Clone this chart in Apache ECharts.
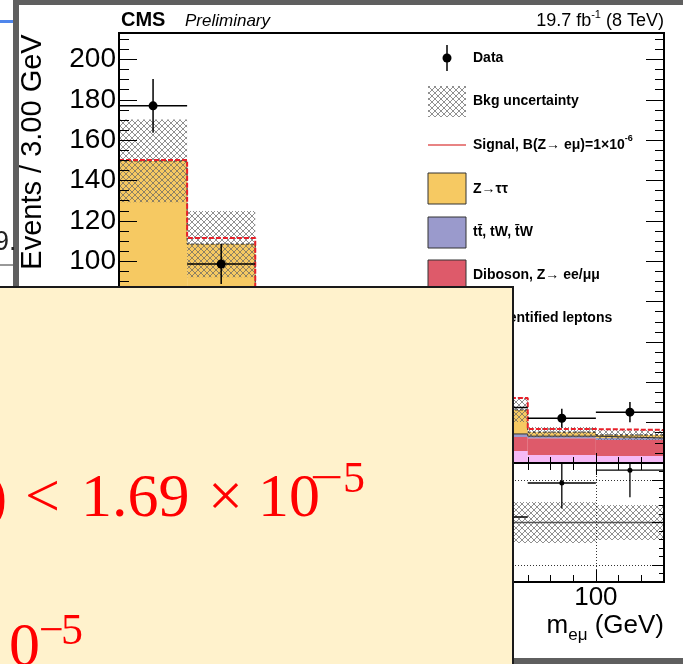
<!DOCTYPE html>
<html><head><meta charset="utf-8">
<script src="https://cdn.jsdelivr.net/npm/echarts@6/dist/echarts.min.js"></script>
<style>html,body{margin:0;padding:0;background:#fff;overflow:hidden}#c{width:683px;height:664px}</style>
</head><body><div id="c"></div>
<script>
// ---------------- data ----------------
const binEdges   = [79, 82, 85, 88, 91, 94, 97, 100, 103];
const misidLeptons = [10, 9.5, 8, 7, 6.5, 6, 4, 3.5];
const dibosonZll   = [15, 14, 12, 10, 8, 6.9, 8.3, 7.9];
const ttbarTW      = [3, 2.5, 2, 1.8, 1.6, 1.5, 1.0, 1.0];
const zTauTau      = [121.7, 82.5, 48, 26, 16, 11.9, 2.0, 1.5];
const signalZemu   = [0.5, 3, 8, 14, 12, 5.9, 1.5, 2.5];
const bkgUncert    = [20.5, 16.4, 12, 9, 7, 6, 2.5, 2.5];
const dataCounts   = [177, 98.6, 74, 47, 31, 27.5, 22.2, 25.2];
const dataErrors   = [13.3, 9.9, 8.6, 6.9, 5.6, 5.2, 4.7, 5.0];
const ratioValues  = [1.18, 0.91, 1.06, 1.05, 0.97, 1.065, 1.465, 1.616];
const ratioErrors  = [0.09, 0.09, 0.12, 0.15, 0.17, 0.2, 0.3, 0.32];
const ratioBand    = [0.14, 0.15, 0.17, 0.2, 0.22, 0.24, 0.24, 0.205];
const yMainTicks   = [0, 20, 40, 60, 80, 100, 120, 140, 160, 180, 200];
const xMajorTicks  = [80, 85, 90, 95, 100];
const xTickLabels  = [80, 85, 90, 95, 100];
const ratioMajorTicks = [0.5, 1, 1.5];
const ratioGridLines  = [0.5, 1.5];
const legendLabels = ['Data', 'Bkg uncertainty', 'Signal, B(Z\u2192 e\u03bc)=1\u00d710', 'Z\u2192\u03c4\u03c4',
  'tt\u0304, tW, t\u0304W', 'Diboson, Z\u2192 ee/\u03bc\u03bc', 'Misidentified leptons'];

// ---------------- styles ----------------
const C_Z = '#f6c962', C_TT = '#9a9acc', C_VV = '#de5a6a', C_MIS = '#f5b9f5', C_SIG = '#e8202a';
const SANS = '"Liberation Sans", Arial, sans-serif';
const SERIF = '"Liberation Serif", "Times New Roman", serif';

const hatchCanvas = document.createElement('canvas');
hatchCanvas.width = 6; hatchCanvas.height = 6;
(function () {
  const g = hatchCanvas.getContext('2d');
  g.strokeStyle = 'rgba(100,100,100,0.9)'; g.lineWidth = 0.8;
  g.beginPath();
  g.moveTo(-1, -1); g.lineTo(7, 7);
  g.moveTo(7, -1); g.lineTo(-1, 7);
  g.stroke();
})();
const HATCH = { image: hatchCanvas, repeat: 'repeat' };

const mctx = document.createElement('canvas').getContext('2d');
function tw(s, font) { mctx.font = font; return mctx.measureText(s).width; }

// ---------------- derived stacks ----------------
const nb = misidLeptons.length;
function cum(arrs) { return Array.from({ length: nb }, (_, i) => arrs.reduce((s, a) => s + a[i], 0)); }
const s1 = cum([misidLeptons]);
const s2 = cum([misidLeptons, dibosonZll]);
const s3 = cum([misidLeptons, dibosonZll, ttbarTW]);
const s4 = cum([misidLeptons, dibosonZll, ttbarTW, zTauTau]);
const s5 = s4.map((v, i) => v + signalZemu[i]);
const zeros = new Array(nb).fill(0);

function rects(lo, hi) { return lo.map((v, i) => [binEdges[i], binEdges[i + 1], v, hi[i]]); }
function rectRender(fill) {
  return function (params, api) {
    const a = api.coord([api.value(0), api.value(3)]);
    const b = api.coord([api.value(1), api.value(2)]);
    return { type: 'rect', shape: { x: a[0], y: a[1], width: b[0] - a[0], height: b[1] - a[1] }, style: { fill: fill } };
  };
}
function rectSeries(lo, hi, fill, xi, yi, z) {
  return { type: 'custom', xAxisIndex: xi, yAxisIndex: yi, z: z, clip: true, silent: true,
    renderItem: rectRender(fill), encode: { x: [0, 1], y: [2, 3] }, data: rects(lo, hi) };
}
function stepData(v) {
  const d = v.map((y, i) => [binEdges[i], y]);
  d.push([binEdges[nb], v[nb - 1]]);
  return d;
}
function pointSeries(vals, lo, hi, xi, yi, r, lw) {
  const data = vals.map((v, i) => [(binEdges[i] + binEdges[i + 1]) / 2, binEdges[i], binEdges[i + 1], v, lo[i], hi[i]]);
  return { type: 'custom', xAxisIndex: xi, yAxisIndex: yi, z: 8, clip: true, silent: true,
    encode: { x: [0, 1, 2], y: [3, 4, 5] }, data: data,
    renderItem: function (params, api) {
      const c = api.coord([api.value(0), api.value(3)]);
      const l = api.coord([api.value(1), api.value(3)]);
      const r2 = api.coord([api.value(2), api.value(3)]);
      const a = api.coord([api.value(0), api.value(4)]);
      const b = api.coord([api.value(0), api.value(5)]);
      return { type: 'group', children: [
        { type: 'line', shape: { x1: l[0], y1: c[1], x2: r2[0], y2: c[1] }, style: { stroke: '#000', lineWidth: lw } },
        { type: 'line', shape: { x1: c[0], y1: a[1], x2: c[0], y2: b[1] }, style: { stroke: '#000', lineWidth: lw } },
        { type: 'circle', shape: { cx: c[0], cy: c[1], r: r }, style: { fill: '#000' } }
      ] };
    } };
}

// ---------------- axes ----------------
function ax(kind, grid, pos, len, opts) {
  const o = { type: 'value', gridIndex: grid, position: pos, z: 10,
    axisLine: { show: false }, splitLine: { show: false }, axisLabel: { show: false },
    axisTick: { show: true, inside: true, length: len, lineStyle: { color: '#000', width: 1 } } };
  if (kind === 'x') { o.min = 79; o.max = 103; }
  Object.keys(opts).forEach(k => {
    if (k === 'tick') Object.assign(o.axisTick, opts.tick);
    else if (k === 'label') o.axisLabel = opts.label;
    else o[k] = opts[k];
  });
  return o;
}
const MAINMAX = 213.1;
const xAxes = [
  ax('x', 0, 'bottom', 10, { tick: { customValues: xMajorTicks } }),
  ax('x', 0, 'bottom', 6, { interval: 1 }),
  ax('x', 0, 'top', 12, { tick: { customValues: xMajorTicks } }),
  ax('x', 0, 'top', 7, { interval: 1 }),
  ax('x', 1, 'bottom', 12, { tick: { customValues: xMajorTicks },
    label: { show: true, customValues: xTickLabels, fontSize: 26, fontFamily: SANS, color: '#000', margin: 3 } }),
  ax('x', 1, 'bottom', 7, { interval: 1 }),
  ax('x', 1, 'top', 10, { tick: { customValues: xMajorTicks } }),
  ax('x', 1, 'top', 7, { interval: 1 })
];
const yAxes = [
  ax('y', 0, 'left', 18, { min: 0, max: MAINMAX, tick: { customValues: yMainTicks },
    label: { show: true, customValues: yMainTicks, fontSize: 28, fontFamily: SANS, color: '#000', margin: 3 } }),
  ax('y', 0, 'left', 10, { min: 0, max: MAINMAX, interval: 5 }),
  ax('y', 0, 'right', 18, { min: 0, max: MAINMAX, tick: { customValues: yMainTicks } }),
  ax('y', 0, 'right', 9, { min: 0, max: MAINMAX, interval: 5 }),
  ax('y', 1, 'left', 12, { min: 0.3, max: 1.7, tick: { customValues: ratioMajorTicks } }),
  ax('y', 1, 'left', 5, { min: 0.3, max: 1.7, interval: 0.1 }),
  ax('y', 1, 'right', 12, { min: 0.3, max: 1.7, tick: { customValues: ratioMajorTicks } }),
  ax('y', 1, 'right', 5, { min: 0.3, max: 1.7, interval: 0.1 })
];

// ---------------- series ----------------
const series = [
  rectSeries(zeros, s1, C_MIS, 0, 0, 2),
  rectSeries(s1, s2, C_VV, 0, 0, 2),
  rectSeries(s2, s3, C_TT, 0, 0, 2),
  rectSeries(s3, s4, C_Z, 0, 0, 2),
  rectSeries(s4.map((v, i) => v - bkgUncert[i]), s4.map((v, i) => v + bkgUncert[i]), HATCH, 0, 0, 3),
  { type: 'line', xAxisIndex: 0, yAxisIndex: 0, z: 4, step: 'end', symbol: 'none', silent: true, clip: true,
    data: stepData(s3), lineStyle: { color: '#333', width: 1 } },
  { type: 'line', xAxisIndex: 0, yAxisIndex: 0, z: 5, step: 'end', symbol: 'none', silent: true, clip: true,
    data: stepData(s4), lineStyle: { color: '#222', width: 1, type: [3, 2] } },
  { type: 'line', xAxisIndex: 0, yAxisIndex: 0, z: 6, step: 'end', symbol: 'none', silent: true, clip: true,
    data: stepData(s5), lineStyle: { color: C_SIG, width: 2, type: [5, 2] } },
  pointSeries(dataCounts, dataCounts.map((v, i) => v - dataErrors[i]), dataCounts.map((v, i) => v + dataErrors[i]), 0, 0, 4.5, 1.5),
  // ratio pad
  rectSeries(ratioBand.map(e => 1 - e), ratioBand.map(e => 1 + e), HATCH, 4, 4, 3),
  { type: 'line', xAxisIndex: 4, yAxisIndex: 4, z: 5, symbol: 'none', silent: true,
    data: [[binEdges[0], 1], [binEdges[nb], 1]], lineStyle: { color: '#555', width: 1.5 },
    markLine: { silent: true, symbol: 'none', label: { show: false }, animation: false,
      lineStyle: { color: '#333', width: 1, type: [1, 2] },
      data: ratioGridLines.map(v => ({ yAxis: v })).concat([{ xAxis: 100 }]) } },
  pointSeries(ratioValues, ratioValues.map((v, i) => v - ratioErrors[i]), ratioValues.map((v, i) => v + ratioErrors[i]), 4, 4, 2.5, 1.3)
];

// ---------------- graphics (text, legend, slide overlay) ----------------
const G = [];
function text(x, y, s, font, extra) {
  G.push(Object.assign({ type: 'text', x: x, y: y, z: 60, silent: true,
    style: Object.assign({ text: s, font: font, fill: '#000', align: 'left', textAlign: 'left',
      verticalAlign: 'middle', textVerticalAlign: 'middle' }, (extra && extra.style) || {}) },
    (extra && extra.el) || {}));
}
// header
text(121, 20, 'CMS', 'bold 20px ' + SANS);
text(185, 21, 'Preliminary', 'italic 17px ' + SANS);
(function () {
  const f1 = '18px ' + SANS, f2 = '11px ' + SANS;
  const a = '19.7 fb', b = '-1', c = ' (8 TeV)';
  const w = tw(a, f1) + tw(b, f2) + tw(c, f1);
  let x = 664 - w;
  text(x, 21, a, f1); x += tw(a, f1);
  text(x, 15, b, f2); x += tw(b, f2);
  text(x, 21, c, f1);
})();
// y title
text(33, 152, 'Events / 3.00 GeV', '29px ' + SANS,
  { el: { rotation: Math.PI / 2 }, style: { align: 'center', textAlign: 'center' } });
// x title
(function () {
  const f1 = '26px ' + SANS, f2 = '17px ' + SANS;
  const a = 'm', b = 'e\u03bc', c = ' (GeV)';
  const w = tw(a, f1) + tw(b, f2) + tw(c, f1);
  let x = 664 - w;
  text(x, 626, a, f1); x += tw(a, f1);
  text(x, 635, b, f2); x += tw(b, f2);
  text(x, 626, c, f1);
})();
// legend
const LX = 428, LW = 38, TX = 473, LF = 'bold 14px ' + SANS;
const rowsY = [58, 101, 145, 189, 232, 275, 318];
G.push({ type: 'line', z: 55, silent: true, shape: { x1: LX + LW / 2, y1: 45, x2: LX + LW / 2, y2: 71 }, style: { stroke: '#000', lineWidth: 1.5 } });
G.push({ type: 'circle', z: 55, silent: true, shape: { cx: LX + LW / 2, cy: 58, r: 4.5 }, style: { fill: '#000' } });
G.push({ type: 'rect', z: 55, silent: true, shape: { x: LX, y: 86, width: LW, height: 31 }, style: { fill: HATCH } });
G.push({ type: 'line', z: 55, silent: true, shape: { x1: LX, y1: 145, x2: LX + LW, y2: 145 }, style: { stroke: '#e05a5a', lineWidth: 1.5 } });
[[C_Z, 173], [C_TT, 217], [C_VV, 260], [C_MIS, 303]].forEach(([c, y]) => {
  G.push({ type: 'rect', z: 55, silent: true, shape: { x: LX, y: y, width: LW, height: 31 }, style: { fill: c, stroke: '#333', lineWidth: 1 } });
});
legendLabels.forEach((s, i) => text(TX, rowsY[i], s, LF));
text(TX + tw(legendLabels[2], LF), rowsY[2] - 6, '-6', 'bold 9px ' + SANS);

// slide decorations
G.push({ type: 'rect', z: 90, silent: true, shape: { x: 13, y: 0, width: 6, height: 664 }, style: { fill: '#5f5f5f' } });
G.push({ type: 'rect', z: 90, silent: true, shape: { x: 13, y: 0, width: 670, height: 5 }, style: { fill: '#5f5f5f' } });
G.push({ type: 'rect', z: 90, silent: true, shape: { x: 13, y: 658, width: 670, height: 6 }, style: { fill: '#5f5f5f' } });
G.push({ type: 'rect', z: 90, silent: true, shape: { x: 0, y: 20, width: 13, height: 3 }, style: { fill: '#4f86ec' } });
G.push({ type: 'line', z: 90, silent: true, shape: { x1: 0, y1: 265, x2: 13, y2: 265 }, style: { stroke: '#333', lineWidth: 1 } });
text(-6, 243, '9.', '27px ' + SANS, { el: { z: 90 }, style: { fill: '#222' } });
// yellow box with red formula fragments
G.push({ type: 'rect', z: 100, silent: true, shape: { x: -5, y: 287, width: 518, height: 400 }, style: { fill: '#fff2cc', stroke: '#1a1a1a', lineWidth: 2 } });
const RF = '62px ' + SERIF, RS = '44px ' + SERIF, RED = { fill: '#ff0000' };
text(-13.6, 499.5, ')', RF, { el: { z: 110 }, style: RED });
text(25, 499.5, '<', RF, { el: { z: 110 }, style: RED });
text(81, 499.5, '1.69', RF, { el: { z: 110 }, style: RED });
text(208, 499.5, '\u00d7', RF, { el: { z: 110 }, style: RED });
text(258, 499.5, '10', RF, { el: { z: 110 }, style: RED });
text(310, 480.5, '\u2212', RS, { el: { z: 111, scaleX: 1.35 }, style: RED });
text(343, 480.5, '5', RS, { el: { z: 111 }, style: RED });
text(9, 648.5, '0', RF, { el: { z: 110 }, style: RED });
text(39, 632.5, '\u2212', RS, { el: { z: 111 }, style: RED });
text(61, 632.5, '5', RS, { el: { z: 111 }, style: RED });

const chart = echarts.init(document.getElementById('c'), null, { renderer: 'canvas', width: 683, height: 664 });
chart.setOption({
  animation: false,
  backgroundColor: '#ffffff',
  grid: [
    { left: 119, top: 33, width: 545, height: 430, show: true, z: 10, borderColor: '#000', borderWidth: 2, backgroundColor: 'transparent', containLabel: false, outerBoundsMode: 'none' },
    { left: 119, top: 463, width: 545, height: 119, show: true, z: 10, borderColor: '#000', borderWidth: 2, backgroundColor: 'transparent', containLabel: false, outerBoundsMode: 'none' }
  ],
  xAxis: xAxes,
  yAxis: yAxes,
  series: series,
  graphic: { elements: G }
});
</script>
</body></html>
